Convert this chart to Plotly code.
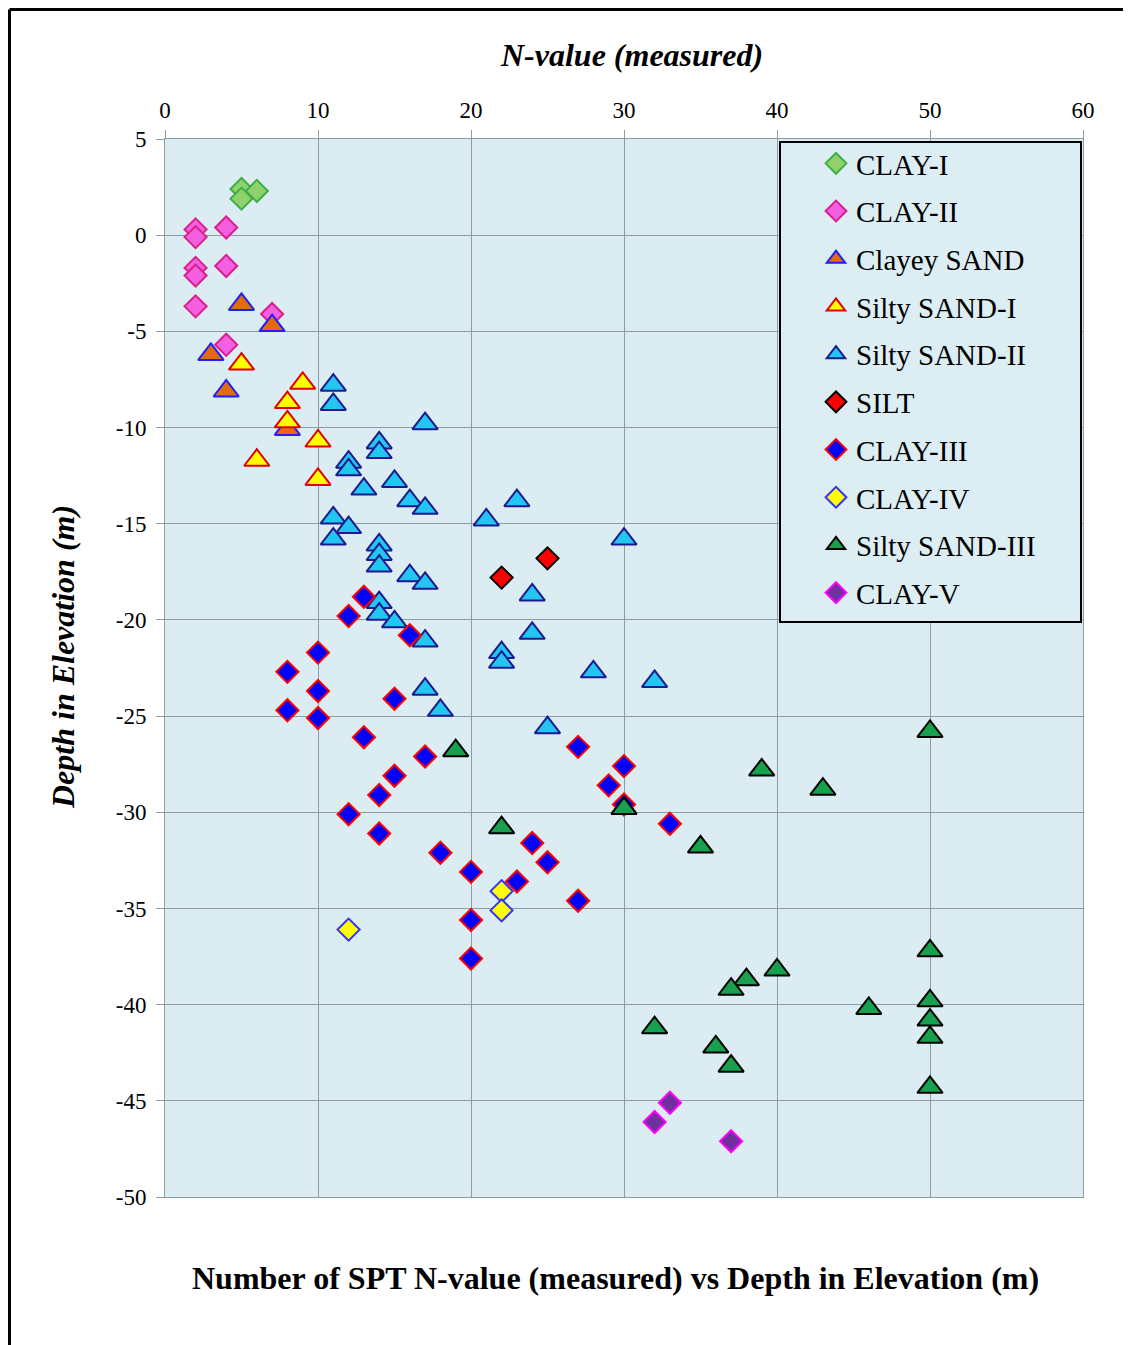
import plotly.graph_objects as go

# ---- data (N-value, elevation) ----
clay1_n = [5, 5, 6]
clay1_d = [2.4, 1.9, 2.3]

clay2_n = [2, 2, 4, 2, 2, 4, 2, 7, 4]
clay2_d = [0.3, -0.1, 0.4, -1.7, -2.1, -1.6, -3.7, -4.1, -5.7]

csand_n = [5, 7, 3, 4, 8]
csand_d = [-3.6, -4.7, -6.2, -8.1, -10.1]

ss1_n = [5, 9, 8, 8, 10, 6, 10]
ss1_d = [-6.7, -7.7, -8.7, -9.7, -10.7, -11.7, -12.7]

ss2_n = [11, 11, 17, 14, 14, 12, 12, 15, 13, 16, 17, 11, 12, 11, 21, 23, 30, 14, 14, 14,
         16, 17, 24, 14, 14, 15, 17, 24, 22, 22, 28, 32, 17, 18, 25]
ss2_d = [-7.8, -8.8, -9.8, -10.8, -11.3, -11.8, -12.2, -12.8, -13.2, -13.8, -14.2, -14.7,
         -15.2, -15.8, -14.8, -13.8, -15.8, -16.1, -16.6, -17.2, -17.7, -18.1, -18.7, -19.1,
         -19.7, -20.1, -21.1, -20.7, -21.7, -22.2, -22.7, -23.2, -23.6, -24.7, -25.6]

silt_n = [22, 25]
silt_d = [-17.8, -16.8]

clay3_n = [13, 12, 16, 10, 8, 10, 15, 8, 10, 13, 17, 15, 14, 12, 14, 18, 20, 24, 25, 23,
           27, 20, 20, 27, 30, 29, 30, 33]
clay3_d = [-18.8, -19.8, -20.8, -21.7, -22.7, -23.7, -24.1, -24.7, -25.1, -26.1, -27.1,
           -28.1, -29.1, -30.1, -31.1, -32.1, -33.1, -31.6, -32.6, -33.6, -34.6, -35.6,
           -37.6, -26.6, -27.6, -28.6, -29.6, -30.6]

clay4_n = [22, 22, 12]
clay4_d = [-34.1, -35.1, -36.1]

ss3_n = [19, 22, 30, 50, 39, 43, 35, 50, 40, 38, 37, 46, 50, 50, 50, 50, 32, 36, 37]
ss3_d = [-26.8, -30.8, -29.8, -25.8, -27.8, -28.8, -31.8, -37.2, -38.2, -38.7, -39.2,
         -40.2, -39.8, -40.8, -41.7, -44.3, -41.2, -42.2, -43.2]

clay5_n = [33, 32, 37]
clay5_d = [-45.1, -46.1, -47.1]

x_ticks = [0, 10, 20, 30, 40, 50, 60]
y_ticks = [5, 0, -5, -10, -15, -20, -25, -30, -35, -40, -45, -50]

series = [
    ("CLAY-I", clay1_n, clay1_d, "diamond", "#8fd16a", "#3fae49"),
    ("CLAY-II", clay2_n, clay2_d, "diamond", "#f75fe2", "#d8208c"),
    ("Clayey SAND", csand_n, csand_d, "triangle-up", "#e36c0a", "#1f1fff"),
    ("Silty SAND-I", ss1_n, ss1_d, "triangle-up", "#ffff00", "#e00000"),
    ("Silty SAND-II", ss2_n, ss2_d, "triangle-up", "#22c6f0", "#1c1a8e"),
    ("SILT", silt_n, silt_d, "diamond", "#ff0000", "#000000"),
    ("CLAY-III", clay3_n, clay3_d, "diamond", "#0000ff", "#ff0000"),
    ("CLAY-IV", clay4_n, clay4_d, "diamond", "#ffff00", "#3333ff"),
    ("Silty SAND-III", ss3_n, ss3_d, "triangle-up", "#17a14f", "#000000"),
    ("CLAY-V", clay5_n, clay5_d, "diamond", "#7030a0", "#ff00ff"),
]

SERIF = "Liberation Serif, Times New Roman, serif"

fig = go.Figure()
for name, xs, ys, sym, fill, edge in series:
    fig.add_trace(go.Scatter(
        x=xs, y=ys, mode="markers", name=name, legendgroup=name,
        marker=dict(symbol=sym, size=17 if sym == "diamond" else 22, color=fill,
                    line=dict(color=edge, width=2)),
    ))

# page offset: the page body adds 8px margin, so the figure is drawn 8px lower/right
OFF = 8
W, H = 1131 - OFF, 1345 - OFF
L, R, T, B = 165, 1083, 139, 1197          # plot area in page pixels
pw, ph = R - L, B - T

def px(xp):
    return (xp - L) / pw

def py(yp):
    return (B - yp) / ph

grid = "#8d9ca4"
fig.update_layout(
    width=W, height=H,
    margin=dict(l=L - OFF, r=W - (R - OFF), t=T - OFF, b=H - (B - OFF)),
    paper_bgcolor="white",
    plot_bgcolor="#dbedf3",
    font=dict(family=SERIF, color="black"),
    showlegend=True,
    legend=dict(
        x=px(816), y=py(138), xanchor="left", yanchor="top",
        bgcolor="rgba(0,0,0,0)", borderwidth=0,
        font=dict(family=SERIF, size=29, color="black"),
        tracegroupgap=7, traceorder="grouped",
    ),
    xaxis=dict(
        side="top", range=[0, 60], tickvals=x_ticks, ticktext=[str(v) for v in x_ticks],
        showgrid=True, gridcolor=grid, gridwidth=1, zeroline=False,
        showline=True, linecolor=grid, linewidth=1, mirror=True,
        ticks="outside", ticklen=8, tickcolor=grid, ticklabelstandoff=3,
        tickfont=dict(family=SERIF, size=23, color="black"),
    ),
    yaxis=dict(
        range=[-50, 5], tickvals=y_ticks, ticktext=[str(v) for v in y_ticks],
        showgrid=True, gridcolor=grid, gridwidth=1, zeroline=False,
        showline=True, linecolor=grid, linewidth=1, mirror=True,
        ticks="outside", ticklen=8, tickcolor=grid, ticklabelstandoff=5,
        tickfont=dict(family=SERIF, size=23, color="black"),
    ),
    shapes=[
        # legend box
        dict(type="rect", xref="paper", yref="paper", layer="above",
             x0=px(780), x1=px(1081), y0=py(622), y1=py(142),
             fillcolor="#dceef4", line=dict(color="black", width=2)),
        # outer frame (top and left)
        dict(type="line", xref="paper", yref="paper", x0=px(9.5), x1=px(1140), y0=py(9.5), y1=py(9.5),
             line=dict(color="black", width=3)),
        dict(type="line", xref="paper", yref="paper", x0=px(9.5), x1=px(9.5), y0=py(9.5), y1=py(1360),
             line=dict(color="black", width=3)),
    ],
    annotations=[
        dict(text="<b><i>N-value (measured)</i></b>", xref="paper", yref="paper",
             x=px(631), y=py(55), xanchor="center", yanchor="middle", showarrow=False,
             font=dict(family=SERIF, size=32, color="black")),
        dict(text="<b><i>Depth in Elevation (m)</i></b>", xref="paper", yref="paper",
             x=px(63), y=py(657), xanchor="center", yanchor="middle", showarrow=False,
             textangle=-90, font=dict(family=SERIF, size=32, color="black")),
        dict(text="<b>Number of SPT N-value (measured) vs Depth in Elevation (m)</b>",
             xref="paper", yref="paper", x=px(615), y=py(1278), xanchor="center",
             yanchor="middle", showarrow=False,
             font=dict(family=SERIF, size=32, color="black")),
    ],
)

fig.write_html("out.html")
